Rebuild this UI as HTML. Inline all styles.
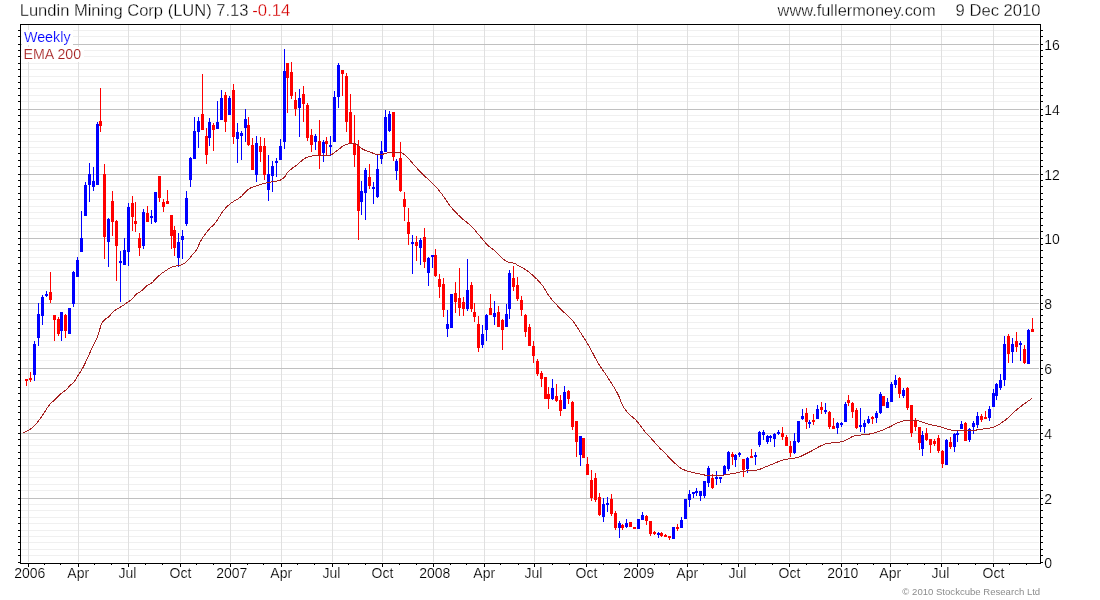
<!DOCTYPE html><html><head><meta charset="utf-8"><title>Lundin Mining Corp (LUN)</title>
<style>html,body{margin:0;padding:0;background:#fff}svg{display:block;will-change:transform}text{font-family:"Liberation Sans",Arial,sans-serif;paint-order:fill stroke;stroke:#fff;stroke-width:.18px}.t{stroke-width:.3px}.c{stroke-width:0}</style></head><body>
<svg width="1100" height="600" viewBox="0 0 1100 600">
<rect x="0" y="0" width="1100" height="600" fill="#fff"/>
<g shape-rendering="crispEdges">
<rect x="21" y="30" width="1018" height="1" fill="#f0f0f0"/>
<rect x="21" y="36" width="1018" height="1" fill="#f0f0f0"/>
<rect x="21" y="50" width="1018" height="1" fill="#f0f0f0"/>
<rect x="21" y="56" width="1018" height="1" fill="#f0f0f0"/>
<rect x="21" y="63" width="1018" height="1" fill="#f0f0f0"/>
<rect x="21" y="69" width="1018" height="1" fill="#f0f0f0"/>
<rect x="21" y="76" width="1018" height="1" fill="#f0f0f0"/>
<rect x="21" y="82" width="1018" height="1" fill="#f0f0f0"/>
<rect x="21" y="88" width="1018" height="1" fill="#f0f0f0"/>
<rect x="21" y="95" width="1018" height="1" fill="#f0f0f0"/>
<rect x="21" y="101" width="1018" height="1" fill="#f0f0f0"/>
<rect x="21" y="115" width="1018" height="1" fill="#f0f0f0"/>
<rect x="21" y="121" width="1018" height="1" fill="#f0f0f0"/>
<rect x="21" y="128" width="1018" height="1" fill="#f0f0f0"/>
<rect x="21" y="134" width="1018" height="1" fill="#f0f0f0"/>
<rect x="21" y="141" width="1018" height="1" fill="#f0f0f0"/>
<rect x="21" y="147" width="1018" height="1" fill="#f0f0f0"/>
<rect x="21" y="153" width="1018" height="1" fill="#f0f0f0"/>
<rect x="21" y="160" width="1018" height="1" fill="#f0f0f0"/>
<rect x="21" y="166" width="1018" height="1" fill="#f0f0f0"/>
<rect x="21" y="180" width="1018" height="1" fill="#f0f0f0"/>
<rect x="21" y="186" width="1018" height="1" fill="#f0f0f0"/>
<rect x="21" y="193" width="1018" height="1" fill="#f0f0f0"/>
<rect x="21" y="199" width="1018" height="1" fill="#f0f0f0"/>
<rect x="21" y="206" width="1018" height="1" fill="#f0f0f0"/>
<rect x="21" y="212" width="1018" height="1" fill="#f0f0f0"/>
<rect x="21" y="218" width="1018" height="1" fill="#f0f0f0"/>
<rect x="21" y="225" width="1018" height="1" fill="#f0f0f0"/>
<rect x="21" y="231" width="1018" height="1" fill="#f0f0f0"/>
<rect x="21" y="244" width="1018" height="1" fill="#f0f0f0"/>
<rect x="21" y="250" width="1018" height="1" fill="#f0f0f0"/>
<rect x="21" y="257" width="1018" height="1" fill="#f0f0f0"/>
<rect x="21" y="263" width="1018" height="1" fill="#f0f0f0"/>
<rect x="21" y="270" width="1018" height="1" fill="#f0f0f0"/>
<rect x="21" y="276" width="1018" height="1" fill="#f0f0f0"/>
<rect x="21" y="282" width="1018" height="1" fill="#f0f0f0"/>
<rect x="21" y="289" width="1018" height="1" fill="#f0f0f0"/>
<rect x="21" y="295" width="1018" height="1" fill="#f0f0f0"/>
<rect x="21" y="309" width="1018" height="1" fill="#f0f0f0"/>
<rect x="21" y="315" width="1018" height="1" fill="#f0f0f0"/>
<rect x="21" y="322" width="1018" height="1" fill="#f0f0f0"/>
<rect x="21" y="328" width="1018" height="1" fill="#f0f0f0"/>
<rect x="21" y="335" width="1018" height="1" fill="#f0f0f0"/>
<rect x="21" y="341" width="1018" height="1" fill="#f0f0f0"/>
<rect x="21" y="347" width="1018" height="1" fill="#f0f0f0"/>
<rect x="21" y="354" width="1018" height="1" fill="#f0f0f0"/>
<rect x="21" y="360" width="1018" height="1" fill="#f0f0f0"/>
<rect x="21" y="374" width="1018" height="1" fill="#f0f0f0"/>
<rect x="21" y="380" width="1018" height="1" fill="#f0f0f0"/>
<rect x="21" y="387" width="1018" height="1" fill="#f0f0f0"/>
<rect x="21" y="393" width="1018" height="1" fill="#f0f0f0"/>
<rect x="21" y="400" width="1018" height="1" fill="#f0f0f0"/>
<rect x="21" y="406" width="1018" height="1" fill="#f0f0f0"/>
<rect x="21" y="412" width="1018" height="1" fill="#f0f0f0"/>
<rect x="21" y="419" width="1018" height="1" fill="#f0f0f0"/>
<rect x="21" y="425" width="1018" height="1" fill="#f0f0f0"/>
<rect x="21" y="439" width="1018" height="1" fill="#f0f0f0"/>
<rect x="21" y="445" width="1018" height="1" fill="#f0f0f0"/>
<rect x="21" y="452" width="1018" height="1" fill="#f0f0f0"/>
<rect x="21" y="458" width="1018" height="1" fill="#f0f0f0"/>
<rect x="21" y="465" width="1018" height="1" fill="#f0f0f0"/>
<rect x="21" y="471" width="1018" height="1" fill="#f0f0f0"/>
<rect x="21" y="477" width="1018" height="1" fill="#f0f0f0"/>
<rect x="21" y="484" width="1018" height="1" fill="#f0f0f0"/>
<rect x="21" y="490" width="1018" height="1" fill="#f0f0f0"/>
<rect x="21" y="504" width="1018" height="1" fill="#f0f0f0"/>
<rect x="21" y="510" width="1018" height="1" fill="#f0f0f0"/>
<rect x="21" y="517" width="1018" height="1" fill="#f0f0f0"/>
<rect x="21" y="523" width="1018" height="1" fill="#f0f0f0"/>
<rect x="21" y="530" width="1018" height="1" fill="#f0f0f0"/>
<rect x="21" y="536" width="1018" height="1" fill="#f0f0f0"/>
<rect x="21" y="542" width="1018" height="1" fill="#f0f0f0"/>
<rect x="21" y="549" width="1018" height="1" fill="#f0f0f0"/>
<rect x="21" y="555" width="1018" height="1" fill="#f0f0f0"/>
<rect x="28" y="25" width="1" height="537" fill="#e0e0e0"/>
<rect x="78" y="25" width="1" height="537" fill="#e0e0e0"/>
<rect x="128" y="25" width="1" height="537" fill="#e0e0e0"/>
<rect x="180" y="25" width="1" height="537" fill="#e0e0e0"/>
<rect x="230" y="25" width="1" height="537" fill="#e0e0e0"/>
<rect x="281" y="25" width="1" height="537" fill="#e0e0e0"/>
<rect x="332" y="25" width="1" height="537" fill="#e0e0e0"/>
<rect x="382" y="25" width="1" height="537" fill="#e0e0e0"/>
<rect x="433" y="25" width="1" height="537" fill="#e0e0e0"/>
<rect x="484" y="25" width="1" height="537" fill="#e0e0e0"/>
<rect x="534" y="25" width="1" height="537" fill="#e0e0e0"/>
<rect x="586" y="25" width="1" height="537" fill="#e0e0e0"/>
<rect x="637" y="25" width="1" height="537" fill="#e0e0e0"/>
<rect x="687" y="25" width="1" height="537" fill="#e0e0e0"/>
<rect x="738" y="25" width="1" height="537" fill="#e0e0e0"/>
<rect x="789" y="25" width="1" height="537" fill="#e0e0e0"/>
<rect x="841" y="25" width="1" height="537" fill="#e0e0e0"/>
<rect x="890" y="25" width="1" height="537" fill="#e0e0e0"/>
<rect x="941" y="25" width="1" height="537" fill="#e0e0e0"/>
<rect x="993" y="25" width="1" height="537" fill="#e0e0e0"/>
<rect x="21" y="44" width="1018" height="1" fill="#c0c0c0"/>
<rect x="21" y="109" width="1018" height="1" fill="#c0c0c0"/>
<rect x="21" y="174" width="1018" height="1" fill="#c0c0c0"/>
<rect x="21" y="238" width="1018" height="1" fill="#c0c0c0"/>
<rect x="21" y="303" width="1018" height="1" fill="#c0c0c0"/>
<rect x="21" y="368" width="1018" height="1" fill="#c0c0c0"/>
<rect x="21" y="433" width="1018" height="1" fill="#c0c0c0"/>
<rect x="21" y="498" width="1018" height="1" fill="#c0c0c0"/>
<rect x="22" y="30" width="51" height="15" fill="#fff"/>
<rect x="22" y="47" width="62" height="15" fill="#fff"/>
<rect x="18" y="30" width="2" height="1" fill="#000"/>
<rect x="1041" y="30" width="2" height="1" fill="#000"/>
<rect x="18" y="36" width="2" height="1" fill="#000"/>
<rect x="1041" y="36" width="2" height="1" fill="#000"/>
<rect x="18" y="50" width="2" height="1" fill="#000"/>
<rect x="1041" y="50" width="2" height="1" fill="#000"/>
<rect x="18" y="56" width="2" height="1" fill="#000"/>
<rect x="1041" y="56" width="2" height="1" fill="#000"/>
<rect x="18" y="63" width="2" height="1" fill="#000"/>
<rect x="1041" y="63" width="2" height="1" fill="#000"/>
<rect x="18" y="69" width="2" height="1" fill="#000"/>
<rect x="1041" y="69" width="2" height="1" fill="#000"/>
<rect x="18" y="76" width="2" height="1" fill="#000"/>
<rect x="1041" y="76" width="2" height="1" fill="#000"/>
<rect x="18" y="82" width="2" height="1" fill="#000"/>
<rect x="1041" y="82" width="2" height="1" fill="#000"/>
<rect x="18" y="88" width="2" height="1" fill="#000"/>
<rect x="1041" y="88" width="2" height="1" fill="#000"/>
<rect x="18" y="95" width="2" height="1" fill="#000"/>
<rect x="1041" y="95" width="2" height="1" fill="#000"/>
<rect x="18" y="101" width="2" height="1" fill="#000"/>
<rect x="1041" y="101" width="2" height="1" fill="#000"/>
<rect x="18" y="115" width="2" height="1" fill="#000"/>
<rect x="1041" y="115" width="2" height="1" fill="#000"/>
<rect x="18" y="121" width="2" height="1" fill="#000"/>
<rect x="1041" y="121" width="2" height="1" fill="#000"/>
<rect x="18" y="128" width="2" height="1" fill="#000"/>
<rect x="1041" y="128" width="2" height="1" fill="#000"/>
<rect x="18" y="134" width="2" height="1" fill="#000"/>
<rect x="1041" y="134" width="2" height="1" fill="#000"/>
<rect x="18" y="141" width="2" height="1" fill="#000"/>
<rect x="1041" y="141" width="2" height="1" fill="#000"/>
<rect x="18" y="147" width="2" height="1" fill="#000"/>
<rect x="1041" y="147" width="2" height="1" fill="#000"/>
<rect x="18" y="153" width="2" height="1" fill="#000"/>
<rect x="1041" y="153" width="2" height="1" fill="#000"/>
<rect x="18" y="160" width="2" height="1" fill="#000"/>
<rect x="1041" y="160" width="2" height="1" fill="#000"/>
<rect x="18" y="166" width="2" height="1" fill="#000"/>
<rect x="1041" y="166" width="2" height="1" fill="#000"/>
<rect x="18" y="180" width="2" height="1" fill="#000"/>
<rect x="1041" y="180" width="2" height="1" fill="#000"/>
<rect x="18" y="186" width="2" height="1" fill="#000"/>
<rect x="1041" y="186" width="2" height="1" fill="#000"/>
<rect x="18" y="193" width="2" height="1" fill="#000"/>
<rect x="1041" y="193" width="2" height="1" fill="#000"/>
<rect x="18" y="199" width="2" height="1" fill="#000"/>
<rect x="1041" y="199" width="2" height="1" fill="#000"/>
<rect x="18" y="206" width="2" height="1" fill="#000"/>
<rect x="1041" y="206" width="2" height="1" fill="#000"/>
<rect x="18" y="212" width="2" height="1" fill="#000"/>
<rect x="1041" y="212" width="2" height="1" fill="#000"/>
<rect x="18" y="218" width="2" height="1" fill="#000"/>
<rect x="1041" y="218" width="2" height="1" fill="#000"/>
<rect x="18" y="225" width="2" height="1" fill="#000"/>
<rect x="1041" y="225" width="2" height="1" fill="#000"/>
<rect x="18" y="231" width="2" height="1" fill="#000"/>
<rect x="1041" y="231" width="2" height="1" fill="#000"/>
<rect x="18" y="244" width="2" height="1" fill="#000"/>
<rect x="1041" y="244" width="2" height="1" fill="#000"/>
<rect x="18" y="250" width="2" height="1" fill="#000"/>
<rect x="1041" y="250" width="2" height="1" fill="#000"/>
<rect x="18" y="257" width="2" height="1" fill="#000"/>
<rect x="1041" y="257" width="2" height="1" fill="#000"/>
<rect x="18" y="263" width="2" height="1" fill="#000"/>
<rect x="1041" y="263" width="2" height="1" fill="#000"/>
<rect x="18" y="270" width="2" height="1" fill="#000"/>
<rect x="1041" y="270" width="2" height="1" fill="#000"/>
<rect x="18" y="276" width="2" height="1" fill="#000"/>
<rect x="1041" y="276" width="2" height="1" fill="#000"/>
<rect x="18" y="282" width="2" height="1" fill="#000"/>
<rect x="1041" y="282" width="2" height="1" fill="#000"/>
<rect x="18" y="289" width="2" height="1" fill="#000"/>
<rect x="1041" y="289" width="2" height="1" fill="#000"/>
<rect x="18" y="295" width="2" height="1" fill="#000"/>
<rect x="1041" y="295" width="2" height="1" fill="#000"/>
<rect x="18" y="309" width="2" height="1" fill="#000"/>
<rect x="1041" y="309" width="2" height="1" fill="#000"/>
<rect x="18" y="315" width="2" height="1" fill="#000"/>
<rect x="1041" y="315" width="2" height="1" fill="#000"/>
<rect x="18" y="322" width="2" height="1" fill="#000"/>
<rect x="1041" y="322" width="2" height="1" fill="#000"/>
<rect x="18" y="328" width="2" height="1" fill="#000"/>
<rect x="1041" y="328" width="2" height="1" fill="#000"/>
<rect x="18" y="335" width="2" height="1" fill="#000"/>
<rect x="1041" y="335" width="2" height="1" fill="#000"/>
<rect x="18" y="341" width="2" height="1" fill="#000"/>
<rect x="1041" y="341" width="2" height="1" fill="#000"/>
<rect x="18" y="347" width="2" height="1" fill="#000"/>
<rect x="1041" y="347" width="2" height="1" fill="#000"/>
<rect x="18" y="354" width="2" height="1" fill="#000"/>
<rect x="1041" y="354" width="2" height="1" fill="#000"/>
<rect x="18" y="360" width="2" height="1" fill="#000"/>
<rect x="1041" y="360" width="2" height="1" fill="#000"/>
<rect x="18" y="374" width="2" height="1" fill="#000"/>
<rect x="1041" y="374" width="2" height="1" fill="#000"/>
<rect x="18" y="380" width="2" height="1" fill="#000"/>
<rect x="1041" y="380" width="2" height="1" fill="#000"/>
<rect x="18" y="387" width="2" height="1" fill="#000"/>
<rect x="1041" y="387" width="2" height="1" fill="#000"/>
<rect x="18" y="393" width="2" height="1" fill="#000"/>
<rect x="1041" y="393" width="2" height="1" fill="#000"/>
<rect x="18" y="400" width="2" height="1" fill="#000"/>
<rect x="1041" y="400" width="2" height="1" fill="#000"/>
<rect x="18" y="406" width="2" height="1" fill="#000"/>
<rect x="1041" y="406" width="2" height="1" fill="#000"/>
<rect x="18" y="412" width="2" height="1" fill="#000"/>
<rect x="1041" y="412" width="2" height="1" fill="#000"/>
<rect x="18" y="419" width="2" height="1" fill="#000"/>
<rect x="1041" y="419" width="2" height="1" fill="#000"/>
<rect x="18" y="425" width="2" height="1" fill="#000"/>
<rect x="1041" y="425" width="2" height="1" fill="#000"/>
<rect x="18" y="439" width="2" height="1" fill="#000"/>
<rect x="1041" y="439" width="2" height="1" fill="#000"/>
<rect x="18" y="445" width="2" height="1" fill="#000"/>
<rect x="1041" y="445" width="2" height="1" fill="#000"/>
<rect x="18" y="452" width="2" height="1" fill="#000"/>
<rect x="1041" y="452" width="2" height="1" fill="#000"/>
<rect x="18" y="458" width="2" height="1" fill="#000"/>
<rect x="1041" y="458" width="2" height="1" fill="#000"/>
<rect x="18" y="465" width="2" height="1" fill="#000"/>
<rect x="1041" y="465" width="2" height="1" fill="#000"/>
<rect x="18" y="471" width="2" height="1" fill="#000"/>
<rect x="1041" y="471" width="2" height="1" fill="#000"/>
<rect x="18" y="477" width="2" height="1" fill="#000"/>
<rect x="1041" y="477" width="2" height="1" fill="#000"/>
<rect x="18" y="484" width="2" height="1" fill="#000"/>
<rect x="1041" y="484" width="2" height="1" fill="#000"/>
<rect x="18" y="490" width="2" height="1" fill="#000"/>
<rect x="1041" y="490" width="2" height="1" fill="#000"/>
<rect x="18" y="504" width="2" height="1" fill="#000"/>
<rect x="1041" y="504" width="2" height="1" fill="#000"/>
<rect x="18" y="510" width="2" height="1" fill="#000"/>
<rect x="1041" y="510" width="2" height="1" fill="#000"/>
<rect x="18" y="517" width="2" height="1" fill="#000"/>
<rect x="1041" y="517" width="2" height="1" fill="#000"/>
<rect x="18" y="523" width="2" height="1" fill="#000"/>
<rect x="1041" y="523" width="2" height="1" fill="#000"/>
<rect x="18" y="530" width="2" height="1" fill="#000"/>
<rect x="1041" y="530" width="2" height="1" fill="#000"/>
<rect x="18" y="536" width="2" height="1" fill="#000"/>
<rect x="1041" y="536" width="2" height="1" fill="#000"/>
<rect x="18" y="542" width="2" height="1" fill="#000"/>
<rect x="1041" y="542" width="2" height="1" fill="#000"/>
<rect x="18" y="549" width="2" height="1" fill="#000"/>
<rect x="1041" y="549" width="2" height="1" fill="#000"/>
<rect x="18" y="555" width="2" height="1" fill="#000"/>
<rect x="1041" y="555" width="2" height="1" fill="#000"/>
<rect x="18" y="44" width="2" height="1" fill="#000"/>
<rect x="1041" y="44" width="2" height="1" fill="#000"/>
<rect x="18" y="109" width="2" height="1" fill="#000"/>
<rect x="1041" y="109" width="2" height="1" fill="#000"/>
<rect x="18" y="174" width="2" height="1" fill="#000"/>
<rect x="1041" y="174" width="2" height="1" fill="#000"/>
<rect x="18" y="238" width="2" height="1" fill="#000"/>
<rect x="1041" y="238" width="2" height="1" fill="#000"/>
<rect x="18" y="303" width="2" height="1" fill="#000"/>
<rect x="1041" y="303" width="2" height="1" fill="#000"/>
<rect x="18" y="368" width="2" height="1" fill="#000"/>
<rect x="1041" y="368" width="2" height="1" fill="#000"/>
<rect x="18" y="433" width="2" height="1" fill="#000"/>
<rect x="1041" y="433" width="2" height="1" fill="#000"/>
<rect x="18" y="498" width="2" height="1" fill="#000"/>
<rect x="1041" y="498" width="2" height="1" fill="#000"/>
<rect x="18" y="562" width="2" height="1" fill="#000"/>
<rect x="1041" y="562" width="2" height="1" fill="#000"/>
<rect x="20" y="24" width="1021" height="1" fill="#000"/>
<rect x="20" y="563" width="1021" height="1" fill="#000"/>
<rect x="20" y="24" width="1" height="540" fill="#000"/>
<rect x="1040" y="24" width="1" height="540" fill="#000"/>
<rect x="28" y="564" width="1" height="3" fill="#000"/>
<rect x="78" y="564" width="1" height="3" fill="#000"/>
<rect x="128" y="564" width="1" height="3" fill="#000"/>
<rect x="180" y="564" width="1" height="3" fill="#000"/>
<rect x="230" y="564" width="1" height="3" fill="#000"/>
<rect x="281" y="564" width="1" height="3" fill="#000"/>
<rect x="332" y="564" width="1" height="3" fill="#000"/>
<rect x="382" y="564" width="1" height="3" fill="#000"/>
<rect x="433" y="564" width="1" height="3" fill="#000"/>
<rect x="484" y="564" width="1" height="3" fill="#000"/>
<rect x="534" y="564" width="1" height="3" fill="#000"/>
<rect x="586" y="564" width="1" height="3" fill="#000"/>
<rect x="637" y="564" width="1" height="3" fill="#000"/>
<rect x="687" y="564" width="1" height="3" fill="#000"/>
<rect x="738" y="564" width="1" height="3" fill="#000"/>
<rect x="789" y="564" width="1" height="3" fill="#000"/>
<rect x="841" y="564" width="1" height="3" fill="#000"/>
<rect x="890" y="564" width="1" height="3" fill="#000"/>
<rect x="941" y="564" width="1" height="3" fill="#000"/>
<rect x="993" y="564" width="1" height="3" fill="#000"/>
<rect x="44" y="564" width="1" height="1" fill="#000"/>
<rect x="60" y="564" width="1" height="1" fill="#000"/>
<rect x="94" y="564" width="1" height="1" fill="#000"/>
<rect x="111" y="564" width="1" height="1" fill="#000"/>
<rect x="145" y="564" width="1" height="1" fill="#000"/>
<rect x="162" y="564" width="1" height="1" fill="#000"/>
<rect x="196" y="564" width="1" height="1" fill="#000"/>
<rect x="213" y="564" width="1" height="1" fill="#000"/>
<rect x="247" y="564" width="1" height="1" fill="#000"/>
<rect x="263" y="564" width="1" height="1" fill="#000"/>
<rect x="297" y="564" width="1" height="1" fill="#000"/>
<rect x="314" y="564" width="1" height="1" fill="#000"/>
<rect x="348" y="564" width="1" height="1" fill="#000"/>
<rect x="365" y="564" width="1" height="1" fill="#000"/>
<rect x="399" y="564" width="1" height="1" fill="#000"/>
<rect x="416" y="564" width="1" height="1" fill="#000"/>
<rect x="450" y="564" width="1" height="1" fill="#000"/>
<rect x="466" y="564" width="1" height="1" fill="#000"/>
<rect x="500" y="564" width="1" height="1" fill="#000"/>
<rect x="518" y="564" width="1" height="1" fill="#000"/>
<rect x="552" y="564" width="1" height="1" fill="#000"/>
<rect x="569" y="564" width="1" height="1" fill="#000"/>
<rect x="603" y="564" width="1" height="1" fill="#000"/>
<rect x="619" y="564" width="1" height="1" fill="#000"/>
<rect x="654" y="564" width="1" height="1" fill="#000"/>
<rect x="669" y="564" width="1" height="1" fill="#000"/>
<rect x="703" y="564" width="1" height="1" fill="#000"/>
<rect x="721" y="564" width="1" height="1" fill="#000"/>
<rect x="755" y="564" width="1" height="1" fill="#000"/>
<rect x="772" y="564" width="1" height="1" fill="#000"/>
<rect x="806" y="564" width="1" height="1" fill="#000"/>
<rect x="822" y="564" width="1" height="1" fill="#000"/>
<rect x="857" y="564" width="1" height="1" fill="#000"/>
<rect x="873" y="564" width="1" height="1" fill="#000"/>
<rect x="907" y="564" width="1" height="1" fill="#000"/>
<rect x="924" y="564" width="1" height="1" fill="#000"/>
<rect x="958" y="564" width="1" height="1" fill="#000"/>
<rect x="975" y="564" width="1" height="1" fill="#000"/>
<rect x="1009" y="564" width="1" height="1" fill="#000"/>
<rect x="1026" y="564" width="1" height="1" fill="#000"/>
<rect x="26" y="379" width="1" height="7" fill="#ff0000"/><rect x="25" y="379" width="3" height="2" fill="#ff0000"/>
<rect x="30" y="372" width="1" height="10" fill="#ff0000"/><rect x="29" y="378" width="3" height="2" fill="#ff0000"/>
<rect x="34" y="341" width="1" height="40" fill="#0000ff"/><rect x="33" y="344" width="3" height="31" fill="#0000ff"/>
<rect x="38" y="303" width="1" height="43" fill="#0000ff"/><rect x="37" y="314" width="3" height="24" fill="#0000ff"/>
<rect x="42" y="295" width="1" height="30" fill="#0000ff"/><rect x="41" y="297" width="3" height="19" fill="#0000ff"/>
<rect x="46" y="291" width="1" height="6" fill="#0000ff"/><rect x="45" y="294" width="3" height="2" fill="#0000ff"/>
<rect x="50" y="272" width="1" height="31" fill="#ff0000"/><rect x="49" y="292" width="3" height="8" fill="#ff0000"/>
<rect x="54" y="315" width="1" height="26" fill="#ff0000"/><rect x="53" y="315" width="3" height="5" fill="#ff0000"/>
<rect x="58" y="317" width="1" height="19" fill="#ff0000"/><rect x="57" y="319" width="3" height="15" fill="#ff0000"/>
<rect x="61" y="312" width="1" height="29" fill="#0000ff"/><rect x="60" y="312" width="3" height="19" fill="#0000ff"/>
<rect x="65" y="314" width="1" height="24" fill="#ff0000"/><rect x="64" y="315" width="3" height="16" fill="#ff0000"/>
<rect x="69" y="308" width="1" height="26" fill="#0000ff"/><rect x="68" y="308" width="3" height="26" fill="#0000ff"/>
<rect x="73" y="271" width="1" height="36" fill="#0000ff"/><rect x="72" y="272" width="3" height="32" fill="#0000ff"/>
<rect x="77" y="257" width="1" height="20" fill="#0000ff"/><rect x="76" y="260" width="3" height="17" fill="#0000ff"/>
<rect x="81" y="211" width="1" height="41" fill="#0000ff"/><rect x="80" y="238" width="3" height="14" fill="#0000ff"/>
<rect x="85" y="182" width="1" height="34" fill="#0000ff"/><rect x="84" y="185" width="3" height="31" fill="#0000ff"/>
<rect x="89" y="163" width="1" height="39" fill="#0000ff"/><rect x="88" y="174" width="3" height="11" fill="#0000ff"/>
<rect x="93" y="167" width="1" height="24" fill="#0000ff"/><rect x="92" y="181" width="3" height="6" fill="#0000ff"/>
<rect x="97" y="122" width="1" height="63" fill="#0000ff"/><rect x="96" y="124" width="3" height="61" fill="#0000ff"/>
<rect x="100" y="88" width="1" height="44" fill="#ff0000"/><rect x="99" y="121" width="3" height="5" fill="#ff0000"/>
<rect x="104" y="164" width="1" height="95" fill="#ff0000"/><rect x="103" y="174" width="3" height="63" fill="#ff0000"/>
<rect x="108" y="218" width="1" height="49" fill="#0000ff"/><rect x="107" y="219" width="3" height="23" fill="#0000ff"/>
<rect x="112" y="191" width="1" height="45" fill="#ff0000"/><rect x="111" y="201" width="3" height="21" fill="#ff0000"/>
<rect x="116" y="220" width="1" height="61" fill="#ff0000"/><rect x="115" y="221" width="3" height="25" fill="#ff0000"/>
<rect x="120" y="251" width="1" height="51" fill="#0000ff"/><rect x="119" y="261" width="3" height="2" fill="#0000ff"/>
<rect x="124" y="238" width="1" height="27" fill="#0000ff"/><rect x="123" y="250" width="3" height="15" fill="#0000ff"/>
<rect x="128" y="203" width="1" height="63" fill="#0000ff"/><rect x="127" y="207" width="3" height="45" fill="#0000ff"/>
<rect x="132" y="196" width="1" height="35" fill="#ff0000"/><rect x="131" y="203" width="3" height="14" fill="#ff0000"/>
<rect x="135" y="202" width="1" height="30" fill="#ff0000"/><rect x="134" y="221" width="3" height="3" fill="#ff0000"/>
<rect x="139" y="233" width="1" height="23" fill="#ff0000"/><rect x="138" y="238" width="3" height="10" fill="#ff0000"/>
<rect x="143" y="209" width="1" height="40" fill="#0000ff"/><rect x="142" y="212" width="3" height="34" fill="#0000ff"/>
<rect x="147" y="206" width="1" height="16" fill="#ff0000"/><rect x="146" y="213" width="3" height="9" fill="#ff0000"/>
<rect x="151" y="210" width="1" height="14" fill="#0000ff"/><rect x="150" y="216" width="3" height="2" fill="#0000ff"/>
<rect x="155" y="192" width="1" height="31" fill="#0000ff"/><rect x="154" y="192" width="3" height="30" fill="#0000ff"/>
<rect x="159" y="176" width="1" height="26" fill="#ff0000"/><rect x="158" y="176" width="3" height="22" fill="#ff0000"/>
<rect x="163" y="199" width="1" height="13" fill="#ff0000"/><rect x="162" y="202" width="3" height="5" fill="#ff0000"/>
<rect x="167" y="190" width="1" height="14" fill="#ff0000"/><rect x="166" y="201" width="3" height="3" fill="#ff0000"/>
<rect x="171" y="215" width="1" height="34" fill="#ff0000"/><rect x="170" y="215" width="3" height="21" fill="#ff0000"/>
<rect x="174" y="226" width="1" height="30" fill="#ff0000"/><rect x="173" y="230" width="3" height="18" fill="#ff0000"/>
<rect x="178" y="233" width="1" height="34" fill="#0000ff"/><rect x="177" y="242" width="3" height="16" fill="#0000ff"/>
<rect x="182" y="230" width="1" height="29" fill="#0000ff"/><rect x="181" y="236" width="3" height="4" fill="#0000ff"/>
<rect x="186" y="191" width="1" height="35" fill="#0000ff"/><rect x="185" y="198" width="3" height="26" fill="#0000ff"/>
<rect x="190" y="157" width="1" height="30" fill="#0000ff"/><rect x="189" y="158" width="3" height="22" fill="#0000ff"/>
<rect x="194" y="117" width="1" height="42" fill="#0000ff"/><rect x="193" y="131" width="3" height="28" fill="#0000ff"/>
<rect x="198" y="117" width="1" height="31" fill="#0000ff"/><rect x="197" y="121" width="3" height="11" fill="#0000ff"/>
<rect x="202" y="74" width="1" height="56" fill="#ff0000"/><rect x="201" y="114" width="3" height="16" fill="#ff0000"/>
<rect x="206" y="128" width="1" height="36" fill="#ff0000"/><rect x="205" y="136" width="3" height="19" fill="#ff0000"/>
<rect x="209" y="118" width="1" height="28" fill="#0000ff"/><rect x="208" y="122" width="3" height="16" fill="#0000ff"/>
<rect x="213" y="123" width="1" height="28" fill="#ff0000"/><rect x="212" y="125" width="3" height="5" fill="#ff0000"/>
<rect x="217" y="101" width="1" height="28" fill="#0000ff"/><rect x="216" y="122" width="3" height="7" fill="#0000ff"/>
<rect x="221" y="90" width="1" height="30" fill="#0000ff"/><rect x="220" y="98" width="3" height="22" fill="#0000ff"/>
<rect x="225" y="92" width="1" height="40" fill="#ff0000"/><rect x="224" y="95" width="3" height="27" fill="#ff0000"/>
<rect x="229" y="96" width="1" height="19" fill="#0000ff"/><rect x="228" y="98" width="3" height="17" fill="#0000ff"/>
<rect x="233" y="84" width="1" height="60" fill="#ff0000"/><rect x="232" y="90" width="3" height="47" fill="#ff0000"/>
<rect x="237" y="123" width="1" height="40" fill="#0000ff"/><rect x="236" y="132" width="3" height="7" fill="#0000ff"/>
<rect x="241" y="131" width="1" height="29" fill="#0000ff"/><rect x="240" y="133" width="3" height="3" fill="#0000ff"/>
<rect x="245" y="109" width="1" height="33" fill="#0000ff"/><rect x="244" y="119" width="3" height="9" fill="#0000ff"/>
<rect x="248" y="117" width="1" height="29" fill="#ff0000"/><rect x="247" y="125" width="3" height="20" fill="#ff0000"/>
<rect x="252" y="138" width="1" height="32" fill="#ff0000"/><rect x="251" y="145" width="3" height="25" fill="#ff0000"/>
<rect x="256" y="136" width="1" height="46" fill="#0000ff"/><rect x="255" y="143" width="3" height="32" fill="#0000ff"/>
<rect x="260" y="137" width="1" height="25" fill="#ff0000"/><rect x="259" y="146" width="3" height="6" fill="#ff0000"/>
<rect x="264" y="138" width="1" height="42" fill="#ff0000"/><rect x="263" y="146" width="3" height="29" fill="#ff0000"/>
<rect x="268" y="155" width="1" height="46" fill="#0000ff"/><rect x="267" y="174" width="3" height="16" fill="#0000ff"/>
<rect x="272" y="161" width="1" height="31" fill="#0000ff"/><rect x="271" y="166" width="3" height="10" fill="#0000ff"/>
<rect x="276" y="158" width="1" height="19" fill="#0000ff"/><rect x="275" y="161" width="3" height="2" fill="#0000ff"/>
<rect x="280" y="139" width="1" height="21" fill="#0000ff"/><rect x="279" y="146" width="3" height="14" fill="#0000ff"/>
<rect x="284" y="49" width="1" height="100" fill="#0000ff"/><rect x="283" y="71" width="3" height="71" fill="#0000ff"/>
<rect x="287" y="63" width="1" height="50" fill="#ff0000"/><rect x="286" y="63" width="3" height="15" fill="#ff0000"/>
<rect x="291" y="62" width="1" height="37" fill="#ff0000"/><rect x="290" y="72" width="3" height="24" fill="#ff0000"/>
<rect x="295" y="92" width="1" height="24" fill="#ff0000"/><rect x="294" y="100" width="3" height="9" fill="#ff0000"/>
<rect x="299" y="89" width="1" height="48" fill="#0000ff"/><rect x="298" y="98" width="3" height="10" fill="#0000ff"/>
<rect x="303" y="86" width="1" height="36" fill="#ff0000"/><rect x="302" y="94" width="3" height="10" fill="#ff0000"/>
<rect x="307" y="103" width="1" height="38" fill="#ff0000"/><rect x="306" y="105" width="3" height="33" fill="#ff0000"/>
<rect x="311" y="129" width="1" height="23" fill="#ff0000"/><rect x="310" y="135" width="3" height="10" fill="#ff0000"/>
<rect x="315" y="134" width="1" height="16" fill="#0000ff"/><rect x="314" y="136" width="3" height="6" fill="#0000ff"/>
<rect x="319" y="120" width="1" height="49" fill="#ff0000"/><rect x="318" y="141" width="3" height="14" fill="#ff0000"/>
<rect x="323" y="140" width="1" height="22" fill="#0000ff"/><rect x="322" y="142" width="3" height="11" fill="#0000ff"/>
<rect x="326" y="137" width="1" height="18" fill="#ff0000"/><rect x="325" y="141" width="3" height="3" fill="#ff0000"/>
<rect x="330" y="136" width="1" height="20" fill="#0000ff"/><rect x="329" y="145" width="3" height="2" fill="#0000ff"/>
<rect x="334" y="91" width="1" height="51" fill="#0000ff"/><rect x="333" y="97" width="3" height="45" fill="#0000ff"/>
<rect x="338" y="63" width="1" height="45" fill="#0000ff"/><rect x="337" y="65" width="3" height="32" fill="#0000ff"/>
<rect x="342" y="70" width="1" height="26" fill="#ff0000"/><rect x="341" y="70" width="3" height="4" fill="#ff0000"/>
<rect x="346" y="73" width="1" height="59" fill="#ff0000"/><rect x="345" y="76" width="3" height="46" fill="#ff0000"/>
<rect x="350" y="94" width="1" height="50" fill="#ff0000"/><rect x="349" y="112" width="3" height="32" fill="#ff0000"/>
<rect x="354" y="115" width="1" height="52" fill="#ff0000"/><rect x="353" y="144" width="3" height="11" fill="#ff0000"/>
<rect x="358" y="140" width="1" height="100" fill="#ff0000"/><rect x="357" y="146" width="3" height="65" fill="#ff0000"/>
<rect x="361" y="181" width="1" height="34" fill="#0000ff"/><rect x="360" y="191" width="3" height="11" fill="#0000ff"/>
<rect x="365" y="168" width="1" height="52" fill="#0000ff"/><rect x="364" y="170" width="3" height="23" fill="#0000ff"/>
<rect x="369" y="164" width="1" height="25" fill="#ff0000"/><rect x="368" y="177" width="3" height="9" fill="#ff0000"/>
<rect x="373" y="182" width="1" height="22" fill="#0000ff"/><rect x="372" y="187" width="3" height="2" fill="#0000ff"/>
<rect x="377" y="155" width="1" height="43" fill="#0000ff"/><rect x="376" y="169" width="3" height="28" fill="#0000ff"/>
<rect x="381" y="141" width="1" height="23" fill="#0000ff"/><rect x="380" y="151" width="3" height="8" fill="#0000ff"/>
<rect x="385" y="110" width="1" height="42" fill="#0000ff"/><rect x="384" y="117" width="3" height="35" fill="#0000ff"/>
<rect x="389" y="111" width="1" height="21" fill="#0000ff"/><rect x="388" y="114" width="3" height="17" fill="#0000ff"/>
<rect x="393" y="112" width="1" height="49" fill="#ff0000"/><rect x="392" y="112" width="3" height="45" fill="#ff0000"/>
<rect x="396" y="159" width="1" height="21" fill="#0000ff"/><rect x="395" y="161" width="3" height="10" fill="#0000ff"/>
<rect x="400" y="142" width="1" height="50" fill="#ff0000"/><rect x="399" y="158" width="3" height="33" fill="#ff0000"/>
<rect x="404" y="192" width="1" height="29" fill="#ff0000"/><rect x="403" y="199" width="3" height="8" fill="#ff0000"/>
<rect x="408" y="208" width="1" height="37" fill="#ff0000"/><rect x="407" y="222" width="3" height="12" fill="#ff0000"/>
<rect x="412" y="235" width="1" height="39" fill="#0000ff"/><rect x="411" y="242" width="3" height="2" fill="#0000ff"/>
<rect x="416" y="236" width="1" height="25" fill="#ff0000"/><rect x="415" y="242" width="3" height="4" fill="#ff0000"/>
<rect x="420" y="238" width="1" height="27" fill="#0000ff"/><rect x="419" y="240" width="3" height="8" fill="#0000ff"/>
<rect x="424" y="228" width="1" height="40" fill="#ff0000"/><rect x="423" y="237" width="3" height="25" fill="#ff0000"/>
<rect x="428" y="257" width="1" height="29" fill="#0000ff"/><rect x="427" y="258" width="3" height="15" fill="#0000ff"/>
<rect x="432" y="255" width="1" height="13" fill="#0000ff"/><rect x="431" y="255" width="3" height="2" fill="#0000ff"/>
<rect x="435" y="249" width="1" height="28" fill="#ff0000"/><rect x="434" y="255" width="3" height="21" fill="#ff0000"/>
<rect x="439" y="274" width="1" height="24" fill="#ff0000"/><rect x="438" y="279" width="3" height="8" fill="#ff0000"/>
<rect x="443" y="278" width="1" height="39" fill="#ff0000"/><rect x="442" y="284" width="3" height="26" fill="#ff0000"/>
<rect x="447" y="310" width="1" height="27" fill="#0000ff"/><rect x="446" y="324" width="3" height="5" fill="#0000ff"/>
<rect x="451" y="294" width="1" height="34" fill="#0000ff"/><rect x="450" y="294" width="3" height="34" fill="#0000ff"/>
<rect x="455" y="282" width="1" height="31" fill="#ff0000"/><rect x="454" y="293" width="3" height="9" fill="#ff0000"/>
<rect x="459" y="268" width="1" height="48" fill="#ff0000"/><rect x="458" y="298" width="3" height="10" fill="#ff0000"/>
<rect x="463" y="297" width="1" height="19" fill="#ff0000"/><rect x="462" y="302" width="3" height="7" fill="#ff0000"/>
<rect x="467" y="259" width="1" height="52" fill="#0000ff"/><rect x="466" y="290" width="3" height="19" fill="#0000ff"/>
<rect x="471" y="282" width="1" height="30" fill="#ff0000"/><rect x="470" y="285" width="3" height="24" fill="#ff0000"/>
<rect x="474" y="303" width="1" height="19" fill="#ff0000"/><rect x="473" y="312" width="3" height="5" fill="#ff0000"/>
<rect x="478" y="316" width="1" height="36" fill="#ff0000"/><rect x="477" y="324" width="3" height="24" fill="#ff0000"/>
<rect x="482" y="325" width="1" height="23" fill="#0000ff"/><rect x="481" y="334" width="3" height="11" fill="#0000ff"/>
<rect x="486" y="314" width="1" height="27" fill="#0000ff"/><rect x="485" y="315" width="3" height="15" fill="#0000ff"/>
<rect x="490" y="294" width="1" height="21" fill="#ff0000"/><rect x="489" y="308" width="3" height="7" fill="#ff0000"/>
<rect x="494" y="301" width="1" height="24" fill="#0000ff"/><rect x="493" y="313" width="3" height="4" fill="#0000ff"/>
<rect x="498" y="306" width="1" height="21" fill="#ff0000"/><rect x="497" y="312" width="3" height="15" fill="#ff0000"/>
<rect x="502" y="319" width="1" height="31" fill="#ff0000"/><rect x="501" y="320" width="3" height="10" fill="#ff0000"/>
<rect x="506" y="304" width="1" height="23" fill="#0000ff"/><rect x="505" y="314" width="3" height="13" fill="#0000ff"/>
<rect x="509" y="270" width="1" height="49" fill="#0000ff"/><rect x="508" y="273" width="3" height="36" fill="#0000ff"/>
<rect x="513" y="266" width="1" height="25" fill="#ff0000"/><rect x="512" y="278" width="3" height="9" fill="#ff0000"/>
<rect x="517" y="277" width="1" height="24" fill="#ff0000"/><rect x="516" y="285" width="3" height="14" fill="#ff0000"/>
<rect x="521" y="296" width="1" height="20" fill="#ff0000"/><rect x="520" y="300" width="3" height="10" fill="#ff0000"/>
<rect x="525" y="314" width="1" height="23" fill="#ff0000"/><rect x="524" y="315" width="3" height="17" fill="#ff0000"/>
<rect x="529" y="324" width="1" height="22" fill="#ff0000"/><rect x="528" y="327" width="3" height="19" fill="#ff0000"/>
<rect x="533" y="341" width="1" height="22" fill="#ff0000"/><rect x="532" y="346" width="3" height="10" fill="#ff0000"/>
<rect x="537" y="359" width="1" height="17" fill="#ff0000"/><rect x="536" y="361" width="3" height="13" fill="#ff0000"/>
<rect x="541" y="371" width="1" height="16" fill="#ff0000"/><rect x="540" y="373" width="3" height="6" fill="#ff0000"/>
<rect x="545" y="377" width="1" height="22" fill="#ff0000"/><rect x="544" y="377" width="3" height="22" fill="#ff0000"/>
<rect x="548" y="387" width="1" height="22" fill="#ff0000"/><rect x="547" y="394" width="3" height="5" fill="#ff0000"/>
<rect x="552" y="379" width="1" height="21" fill="#0000ff"/><rect x="551" y="388" width="3" height="11" fill="#0000ff"/>
<rect x="556" y="384" width="1" height="18" fill="#ff0000"/><rect x="555" y="396" width="3" height="5" fill="#ff0000"/>
<rect x="560" y="395" width="1" height="21" fill="#ff0000"/><rect x="559" y="400" width="3" height="11" fill="#ff0000"/>
<rect x="564" y="386" width="1" height="23" fill="#0000ff"/><rect x="563" y="392" width="3" height="17" fill="#0000ff"/>
<rect x="568" y="390" width="1" height="14" fill="#ff0000"/><rect x="567" y="391" width="3" height="8" fill="#ff0000"/>
<rect x="572" y="401" width="1" height="29" fill="#ff0000"/><rect x="571" y="402" width="3" height="25" fill="#ff0000"/>
<rect x="576" y="421" width="1" height="36" fill="#ff0000"/><rect x="575" y="421" width="3" height="21" fill="#ff0000"/>
<rect x="580" y="436" width="1" height="30" fill="#0000ff"/><rect x="579" y="436" width="3" height="19" fill="#0000ff"/>
<rect x="583" y="438" width="1" height="20" fill="#ff0000"/><rect x="582" y="438" width="3" height="20" fill="#ff0000"/>
<rect x="587" y="457" width="1" height="18" fill="#ff0000"/><rect x="586" y="464" width="3" height="11" fill="#ff0000"/>
<rect x="591" y="470" width="1" height="31" fill="#ff0000"/><rect x="590" y="480" width="3" height="18" fill="#ff0000"/>
<rect x="595" y="473" width="1" height="29" fill="#ff0000"/><rect x="594" y="478" width="3" height="22" fill="#ff0000"/>
<rect x="599" y="493" width="1" height="23" fill="#ff0000"/><rect x="598" y="497" width="3" height="18" fill="#ff0000"/>
<rect x="603" y="498" width="1" height="24" fill="#0000ff"/><rect x="602" y="504" width="3" height="13" fill="#0000ff"/>
<rect x="607" y="497" width="1" height="15" fill="#0000ff"/><rect x="606" y="503" width="3" height="2" fill="#0000ff"/>
<rect x="611" y="494" width="1" height="22" fill="#ff0000"/><rect x="610" y="499" width="3" height="15" fill="#ff0000"/>
<rect x="615" y="511" width="1" height="19" fill="#ff0000"/><rect x="614" y="513" width="3" height="15" fill="#ff0000"/>
<rect x="619" y="521" width="1" height="17" fill="#0000ff"/><rect x="618" y="523" width="3" height="5" fill="#0000ff"/>
<rect x="622" y="524" width="1" height="6" fill="#ff0000"/><rect x="621" y="525" width="3" height="3" fill="#ff0000"/>
<rect x="626" y="519" width="1" height="9" fill="#0000ff"/><rect x="625" y="523" width="3" height="4" fill="#0000ff"/>
<rect x="630" y="522" width="1" height="5" fill="#ff0000"/><rect x="629" y="522" width="3" height="5" fill="#ff0000"/>
<rect x="634" y="527" width="1" height="2" fill="#ff0000"/><rect x="633" y="527" width="3" height="2" fill="#ff0000"/>
<rect x="638" y="519" width="1" height="10" fill="#0000ff"/><rect x="637" y="519" width="3" height="10" fill="#0000ff"/>
<rect x="642" y="512" width="1" height="8" fill="#0000ff"/><rect x="641" y="515" width="3" height="5" fill="#0000ff"/>
<rect x="646" y="515" width="1" height="10" fill="#ff0000"/><rect x="645" y="516" width="3" height="5" fill="#ff0000"/>
<rect x="650" y="521" width="1" height="15" fill="#ff0000"/><rect x="649" y="521" width="3" height="13" fill="#ff0000"/>
<rect x="654" y="531" width="1" height="4" fill="#ff0000"/><rect x="653" y="532" width="3" height="2" fill="#ff0000"/>
<rect x="658" y="532" width="1" height="6" fill="#0000ff"/><rect x="657" y="533" width="3" height="2" fill="#0000ff"/>
<rect x="661" y="532" width="1" height="5" fill="#ff0000"/><rect x="660" y="533" width="3" height="3" fill="#ff0000"/>
<rect x="665" y="534" width="1" height="3" fill="#ff0000"/><rect x="664" y="535" width="3" height="2" fill="#ff0000"/>
<rect x="669" y="536" width="1" height="4" fill="#ff0000"/><rect x="668" y="536" width="3" height="2" fill="#ff0000"/>
<rect x="673" y="527" width="1" height="12" fill="#0000ff"/><rect x="672" y="527" width="3" height="12" fill="#0000ff"/>
<rect x="677" y="524" width="1" height="7" fill="#ff0000"/><rect x="676" y="527" width="3" height="2" fill="#ff0000"/>
<rect x="681" y="517" width="1" height="11" fill="#0000ff"/><rect x="680" y="520" width="3" height="8" fill="#0000ff"/>
<rect x="685" y="499" width="1" height="20" fill="#0000ff"/><rect x="684" y="499" width="3" height="20" fill="#0000ff"/>
<rect x="689" y="490" width="1" height="17" fill="#0000ff"/><rect x="688" y="494" width="3" height="6" fill="#0000ff"/>
<rect x="693" y="492" width="1" height="6" fill="#0000ff"/><rect x="692" y="492" width="3" height="2" fill="#0000ff"/>
<rect x="696" y="488" width="1" height="8" fill="#0000ff"/><rect x="695" y="491" width="3" height="2" fill="#0000ff"/>
<rect x="700" y="491" width="1" height="10" fill="#0000ff"/><rect x="699" y="491" width="3" height="5" fill="#0000ff"/>
<rect x="704" y="481" width="1" height="17" fill="#0000ff"/><rect x="703" y="481" width="3" height="15" fill="#0000ff"/>
<rect x="708" y="466" width="1" height="21" fill="#0000ff"/><rect x="707" y="468" width="3" height="15" fill="#0000ff"/>
<rect x="712" y="474" width="1" height="15" fill="#ff0000"/><rect x="711" y="478" width="3" height="10" fill="#ff0000"/>
<rect x="716" y="471" width="1" height="14" fill="#0000ff"/><rect x="715" y="477" width="3" height="2" fill="#0000ff"/>
<rect x="720" y="477" width="1" height="6" fill="#0000ff"/><rect x="719" y="477" width="3" height="2" fill="#0000ff"/>
<rect x="724" y="465" width="1" height="10" fill="#0000ff"/><rect x="723" y="466" width="3" height="9" fill="#0000ff"/>
<rect x="728" y="451" width="1" height="20" fill="#0000ff"/><rect x="727" y="452" width="3" height="17" fill="#0000ff"/>
<rect x="732" y="452" width="1" height="13" fill="#ff0000"/><rect x="731" y="454" width="3" height="3" fill="#ff0000"/>
<rect x="735" y="454" width="1" height="13" fill="#0000ff"/><rect x="734" y="455" width="3" height="5" fill="#0000ff"/>
<rect x="739" y="452" width="1" height="5" fill="#0000ff"/><rect x="738" y="453" width="3" height="2" fill="#0000ff"/>
<rect x="743" y="459" width="1" height="18" fill="#ff0000"/><rect x="742" y="459" width="3" height="11" fill="#ff0000"/>
<rect x="747" y="457" width="1" height="16" fill="#0000ff"/><rect x="746" y="458" width="3" height="11" fill="#0000ff"/>
<rect x="751" y="449" width="1" height="9" fill="#ff0000"/><rect x="750" y="456" width="3" height="2" fill="#ff0000"/>
<rect x="755" y="452" width="1" height="13" fill="#0000ff"/><rect x="754" y="455" width="3" height="2" fill="#0000ff"/>
<rect x="759" y="431" width="1" height="16" fill="#0000ff"/><rect x="758" y="432" width="3" height="13" fill="#0000ff"/>
<rect x="763" y="430" width="1" height="10" fill="#0000ff"/><rect x="762" y="432" width="3" height="3" fill="#0000ff"/>
<rect x="767" y="435" width="1" height="9" fill="#0000ff"/><rect x="766" y="436" width="3" height="6" fill="#0000ff"/>
<rect x="770" y="435" width="1" height="7" fill="#0000ff"/><rect x="769" y="436" width="3" height="2" fill="#0000ff"/>
<rect x="774" y="433" width="1" height="14" fill="#0000ff"/><rect x="773" y="434" width="3" height="5" fill="#0000ff"/>
<rect x="778" y="430" width="1" height="5" fill="#0000ff"/><rect x="777" y="432" width="3" height="2" fill="#0000ff"/>
<rect x="782" y="427" width="1" height="13" fill="#ff0000"/><rect x="781" y="433" width="3" height="4" fill="#ff0000"/>
<rect x="786" y="435" width="1" height="11" fill="#ff0000"/><rect x="785" y="437" width="3" height="9" fill="#ff0000"/>
<rect x="790" y="441" width="1" height="16" fill="#ff0000"/><rect x="789" y="446" width="3" height="7" fill="#ff0000"/>
<rect x="794" y="433" width="1" height="21" fill="#0000ff"/><rect x="793" y="441" width="3" height="12" fill="#0000ff"/>
<rect x="798" y="421" width="1" height="22" fill="#0000ff"/><rect x="797" y="421" width="3" height="21" fill="#0000ff"/>
<rect x="802" y="409" width="1" height="11" fill="#0000ff"/><rect x="801" y="416" width="3" height="3" fill="#0000ff"/>
<rect x="806" y="408" width="1" height="21" fill="#ff0000"/><rect x="805" y="413" width="3" height="9" fill="#ff0000"/>
<rect x="809" y="420" width="1" height="8" fill="#0000ff"/><rect x="808" y="422" width="3" height="2" fill="#0000ff"/>
<rect x="813" y="414" width="1" height="11" fill="#ff0000"/><rect x="812" y="420" width="3" height="2" fill="#ff0000"/>
<rect x="817" y="405" width="1" height="14" fill="#0000ff"/><rect x="816" y="409" width="3" height="10" fill="#0000ff"/>
<rect x="821" y="402" width="1" height="12" fill="#ff0000"/><rect x="820" y="407" width="3" height="3" fill="#ff0000"/>
<rect x="825" y="403" width="1" height="11" fill="#0000ff"/><rect x="824" y="410" width="3" height="2" fill="#0000ff"/>
<rect x="829" y="411" width="1" height="18" fill="#ff0000"/><rect x="828" y="412" width="3" height="15" fill="#ff0000"/>
<rect x="833" y="418" width="1" height="11" fill="#ff0000"/><rect x="832" y="426" width="3" height="3" fill="#ff0000"/>
<rect x="837" y="422" width="1" height="12" fill="#0000ff"/><rect x="836" y="423" width="3" height="5" fill="#0000ff"/>
<rect x="841" y="422" width="1" height="5" fill="#0000ff"/><rect x="840" y="423" width="3" height="2" fill="#0000ff"/>
<rect x="845" y="402" width="1" height="20" fill="#0000ff"/><rect x="844" y="404" width="3" height="18" fill="#0000ff"/>
<rect x="848" y="395" width="1" height="11" fill="#ff0000"/><rect x="847" y="400" width="3" height="3" fill="#ff0000"/>
<rect x="852" y="402" width="1" height="16" fill="#ff0000"/><rect x="851" y="403" width="3" height="9" fill="#ff0000"/>
<rect x="856" y="408" width="1" height="21" fill="#ff0000"/><rect x="855" y="410" width="3" height="18" fill="#ff0000"/>
<rect x="860" y="408" width="1" height="24" fill="#0000ff"/><rect x="859" y="425" width="3" height="2" fill="#0000ff"/>
<rect x="864" y="420" width="1" height="13" fill="#0000ff"/><rect x="863" y="423" width="3" height="4" fill="#0000ff"/>
<rect x="868" y="416" width="1" height="8" fill="#0000ff"/><rect x="867" y="419" width="3" height="4" fill="#0000ff"/>
<rect x="872" y="416" width="1" height="8" fill="#ff0000"/><rect x="871" y="417" width="3" height="2" fill="#ff0000"/>
<rect x="876" y="411" width="1" height="12" fill="#0000ff"/><rect x="875" y="413" width="3" height="5" fill="#0000ff"/>
<rect x="880" y="392" width="1" height="22" fill="#0000ff"/><rect x="879" y="394" width="3" height="19" fill="#0000ff"/>
<rect x="883" y="396" width="1" height="10" fill="#ff0000"/><rect x="882" y="396" width="3" height="10" fill="#ff0000"/>
<rect x="887" y="398" width="1" height="10" fill="#0000ff"/><rect x="886" y="402" width="3" height="6" fill="#0000ff"/>
<rect x="891" y="382" width="1" height="20" fill="#0000ff"/><rect x="890" y="384" width="3" height="18" fill="#0000ff"/>
<rect x="895" y="375" width="1" height="13" fill="#0000ff"/><rect x="894" y="380" width="3" height="5" fill="#0000ff"/>
<rect x="899" y="377" width="1" height="21" fill="#ff0000"/><rect x="898" y="378" width="3" height="16" fill="#ff0000"/>
<rect x="903" y="388" width="1" height="10" fill="#0000ff"/><rect x="902" y="390" width="3" height="6" fill="#0000ff"/>
<rect x="907" y="387" width="1" height="23" fill="#ff0000"/><rect x="906" y="388" width="3" height="20" fill="#ff0000"/>
<rect x="911" y="405" width="1" height="32" fill="#ff0000"/><rect x="910" y="405" width="3" height="28" fill="#ff0000"/>
<rect x="915" y="418" width="1" height="13" fill="#ff0000"/><rect x="914" y="420" width="3" height="7" fill="#ff0000"/>
<rect x="919" y="427" width="1" height="23" fill="#ff0000"/><rect x="918" y="427" width="3" height="16" fill="#ff0000"/>
<rect x="922" y="431" width="1" height="25" fill="#0000ff"/><rect x="921" y="435" width="3" height="14" fill="#0000ff"/>
<rect x="926" y="428" width="1" height="13" fill="#ff0000"/><rect x="925" y="433" width="3" height="7" fill="#ff0000"/>
<rect x="930" y="439" width="1" height="14" fill="#ff0000"/><rect x="929" y="439" width="3" height="6" fill="#ff0000"/>
<rect x="934" y="439" width="1" height="7" fill="#ff0000"/><rect x="933" y="441" width="3" height="3" fill="#ff0000"/>
<rect x="938" y="435" width="1" height="18" fill="#ff0000"/><rect x="937" y="438" width="3" height="13" fill="#ff0000"/>
<rect x="942" y="450" width="1" height="18" fill="#ff0000"/><rect x="941" y="451" width="3" height="13" fill="#ff0000"/>
<rect x="946" y="439" width="1" height="26" fill="#0000ff"/><rect x="945" y="440" width="3" height="25" fill="#0000ff"/>
<rect x="950" y="437" width="1" height="12" fill="#ff0000"/><rect x="949" y="442" width="3" height="5" fill="#ff0000"/>
<rect x="954" y="433" width="1" height="19" fill="#0000ff"/><rect x="953" y="434" width="3" height="13" fill="#0000ff"/>
<rect x="957" y="431" width="1" height="11" fill="#0000ff"/><rect x="956" y="433" width="3" height="2" fill="#0000ff"/>
<rect x="961" y="421" width="1" height="8" fill="#0000ff"/><rect x="960" y="424" width="3" height="5" fill="#0000ff"/>
<rect x="965" y="422" width="1" height="19" fill="#ff0000"/><rect x="964" y="423" width="3" height="18" fill="#ff0000"/>
<rect x="969" y="428" width="1" height="14" fill="#0000ff"/><rect x="968" y="429" width="3" height="11" fill="#0000ff"/>
<rect x="973" y="421" width="1" height="13" fill="#0000ff"/><rect x="972" y="423" width="3" height="4" fill="#0000ff"/>
<rect x="977" y="412" width="1" height="16" fill="#0000ff"/><rect x="976" y="416" width="3" height="9" fill="#0000ff"/>
<rect x="981" y="414" width="1" height="8" fill="#ff0000"/><rect x="980" y="416" width="3" height="4" fill="#ff0000"/>
<rect x="985" y="411" width="1" height="8" fill="#ff0000"/><rect x="984" y="417" width="3" height="2" fill="#ff0000"/>
<rect x="989" y="406" width="1" height="15" fill="#0000ff"/><rect x="988" y="409" width="3" height="9" fill="#0000ff"/>
<rect x="993" y="389" width="1" height="18" fill="#0000ff"/><rect x="992" y="393" width="3" height="14" fill="#0000ff"/>
<rect x="996" y="383" width="1" height="17" fill="#0000ff"/><rect x="995" y="384" width="3" height="12" fill="#0000ff"/>
<rect x="1000" y="374" width="1" height="16" fill="#0000ff"/><rect x="999" y="380" width="3" height="8" fill="#0000ff"/>
<rect x="1004" y="336" width="1" height="50" fill="#0000ff"/><rect x="1003" y="344" width="3" height="36" fill="#0000ff"/>
<rect x="1008" y="334" width="1" height="29" fill="#ff0000"/><rect x="1007" y="336" width="3" height="18" fill="#ff0000"/>
<rect x="1012" y="338" width="1" height="25" fill="#0000ff"/><rect x="1011" y="344" width="3" height="8" fill="#0000ff"/>
<rect x="1016" y="332" width="1" height="20" fill="#ff0000"/><rect x="1015" y="341" width="3" height="6" fill="#ff0000"/>
<rect x="1020" y="341" width="1" height="20" fill="#0000ff"/><rect x="1019" y="343" width="3" height="2" fill="#0000ff"/>
<rect x="1024" y="345" width="1" height="19" fill="#ff0000"/><rect x="1023" y="349" width="3" height="14" fill="#ff0000"/>
<rect x="1028" y="329" width="1" height="35" fill="#0000ff"/><rect x="1027" y="330" width="3" height="34" fill="#0000ff"/>
<rect x="1032" y="318" width="1" height="14" fill="#ff0000"/><rect x="1031" y="329" width="3" height="3" fill="#ff0000"/>
<polyline points="23.0,432.5 24.0,432.2 25.0,431.9 26.0,431.5 27.0,431.0 28.0,430.5 29.0,429.9 30.0,429.3 31.0,428.6 32.0,427.8 33.0,427.0 34.0,426.1 35.0,425.0 36.0,423.9 37.0,422.7 38.0,421.5 39.0,420.2 40.0,418.8 41.0,417.4 42.0,416.0 43.0,414.5 44.0,413.0 45.0,411.4 46.0,409.8 47.0,408.3 48.0,406.8 49.0,405.5 50.0,404.3 51.0,403.3 52.0,402.3 53.0,401.3 54.0,400.4 55.0,399.4 56.0,398.5 57.0,397.5 58.0,396.5 59.0,395.6 60.0,394.6 61.0,393.7 62.0,392.8 63.0,392.0 64.0,391.3 65.0,390.7 66.0,390.0 67.0,389.0 68.0,387.8 69.0,386.6 70.0,385.5 71.0,384.6 72.0,383.8 73.0,383.0 74.0,382.0 75.0,380.6 76.0,379.0 77.0,377.2 78.0,375.5 79.0,373.9 80.0,372.4 81.0,370.8 82.0,369.2 83.0,367.5 84.0,365.6 85.0,363.5 86.0,361.4 87.0,359.2 88.0,357.0 89.0,354.8 90.0,352.6 91.0,350.3 92.0,348.1 93.0,346.0 94.0,344.0 95.0,342.2 96.0,340.3 97.0,338.0 98.0,335.2 99.0,331.9 100.0,328.5 101.0,324.8 102.0,322.7 103.0,321.4 104.0,320.4 105.0,319.5 106.0,318.7 107.0,318.0 108.0,317.3 109.0,316.5 110.0,315.5 111.0,314.3 112.0,313.1 113.0,311.9 114.0,311.0 115.0,310.3 116.0,309.7 117.0,309.1 118.0,308.5 119.0,307.9 120.0,307.3 121.0,306.7 122.0,306.1 123.0,305.5 124.0,304.8 125.0,304.2 126.0,303.4 127.0,302.7 128.0,302.0 129.0,301.3 130.0,300.6 131.0,299.8 132.0,299.0 133.0,298.0 134.0,296.7 135.0,295.5 136.0,294.5 137.0,293.7 138.0,293.0 139.0,292.4 140.0,291.8 141.0,291.2 142.0,290.5 143.0,289.6 144.0,288.7 145.0,287.6 146.0,286.6 147.0,285.7 148.0,285.0 149.0,284.5 150.0,284.0 151.0,283.5 152.0,282.7 153.0,281.8 154.0,280.7 155.0,279.6 156.0,278.5 157.0,277.5 158.0,276.6 159.0,275.7 160.0,274.8 161.0,274.0 162.0,273.2 163.0,272.5 164.0,271.8 165.0,271.2 166.0,270.5 167.0,269.8 168.0,269.2 169.0,268.5 170.0,268.0 171.0,267.6 172.0,267.1 173.0,266.8 174.0,266.5 175.0,266.3 176.0,266.1 177.0,265.9 178.0,265.7 179.0,265.5 180.0,265.2 181.0,264.9 182.0,264.5 183.0,264.1 184.0,263.6 185.0,263.0 186.0,262.2 187.0,261.3 188.0,260.1 189.0,259.0 190.0,257.8 191.0,256.5 192.0,255.3 193.0,254.0 194.0,252.9 195.0,251.8 196.0,250.5 197.0,248.8 198.0,246.8 199.0,244.6 200.0,242.4 201.0,240.4 202.0,238.7 203.0,237.2 204.0,235.7 205.0,234.4 206.0,233.1 207.0,231.8 208.0,230.6 209.0,229.4 210.0,228.3 211.0,227.3 212.0,226.3 213.0,225.4 214.0,224.4 215.0,223.3 216.0,222.0 217.0,220.5 218.0,219.0 219.0,217.3 220.0,215.7 221.0,214.0 222.0,212.5 223.0,211.2 224.0,210.0 225.0,208.8 226.0,207.7 227.0,206.7 228.0,205.7 229.0,204.8 230.0,203.9 231.0,203.1 232.0,202.4 233.0,201.8 234.0,201.2 235.0,200.6 236.0,200.0 237.0,199.5 238.0,198.9 239.0,198.2 240.0,197.5 241.0,196.7 242.0,195.8 243.0,194.7 244.0,193.7 245.0,192.6 246.0,191.6 247.0,190.6 248.0,189.7 249.0,188.9 250.0,188.3 251.0,187.8 252.0,187.4 253.0,186.9 254.0,186.6 255.0,186.2 256.0,185.9 257.0,185.6 258.0,185.3 259.0,185.0 260.0,184.7 261.0,184.4 262.0,184.1 263.0,183.8 264.0,183.5 265.0,183.3 266.0,183.0 267.0,182.8 268.0,182.6 269.0,182.4 270.0,182.2 271.0,182.0 272.0,181.9 273.0,181.8 274.0,181.6 275.0,181.5 276.0,181.3 277.0,181.1 278.0,180.9 279.0,180.6 280.0,180.2 281.0,179.7 282.0,179.2 283.0,178.5 284.0,177.7 285.0,176.4 286.0,174.9 287.0,173.3 288.0,172.0 289.0,171.0 290.0,170.1 291.0,169.3 292.0,168.5 293.0,167.7 294.0,167.0 295.0,166.3 296.0,165.5 297.0,164.8 298.0,163.9 299.0,163.1 300.0,162.2 301.0,161.3 302.0,160.4 303.0,159.6 304.0,158.9 305.0,158.3 306.0,157.8 307.0,157.4 308.0,157.1 309.0,156.8 310.0,156.6 311.0,156.3 312.0,156.1 313.0,155.9 314.0,155.8 315.0,155.6 316.0,155.5 317.0,155.4 318.0,155.3 319.0,155.3 320.0,155.2 321.0,155.2 322.0,155.2 323.0,155.2 324.0,155.2 325.0,155.2 326.0,155.1 327.0,155.1 328.0,155.1 329.0,155.0 330.0,155.0 331.0,154.8 332.0,154.3 333.0,153.7 334.0,152.9 335.0,152.1 336.0,151.3 337.0,150.6 338.0,149.9 339.0,149.1 340.0,148.3 341.0,147.5 342.0,146.7 343.0,146.0 344.0,145.4 345.0,145.0 346.0,144.6 347.0,144.3 348.0,143.9 349.0,143.7 350.0,143.5 351.0,143.3 352.0,143.3 353.0,143.4 354.0,143.5 355.0,143.7 356.0,144.1 357.0,144.7 358.0,145.3 359.0,146.1 360.0,147.0 361.0,147.8 362.0,148.7 363.0,149.3 364.0,149.8 365.0,150.3 366.0,150.7 367.0,151.0 368.0,151.3 369.0,151.7 370.0,152.0 371.0,152.4 372.0,152.8 373.0,153.2 374.0,153.6 375.0,154.0 376.0,154.2 377.0,154.2 378.0,154.2 379.0,154.2 380.0,154.2 381.0,154.2 382.0,154.2 383.0,154.1 384.0,153.9 385.0,153.7 386.0,153.4 387.0,153.1 388.0,152.8 389.0,152.6 390.0,152.4 391.0,152.2 392.0,152.2 393.0,152.2 394.0,152.2 395.0,152.3 396.0,152.3 397.0,152.4 398.0,152.4 399.0,152.5 400.0,152.6 401.0,152.7 402.0,153.0 403.0,153.6 404.0,154.3 405.0,155.2 406.0,156.1 407.0,157.0 408.0,158.0 409.0,159.0 410.0,160.2 411.0,161.4 412.0,162.6 413.0,163.8 414.0,165.0 415.0,166.1 416.0,167.2 417.0,168.3 418.0,169.4 419.0,170.5 420.0,171.6 421.0,172.6 422.0,173.6 423.0,174.6 424.0,175.5 425.0,176.4 426.0,177.3 427.0,178.1 428.0,179.0 429.0,179.9 430.0,180.9 431.0,181.8 432.0,182.8 433.0,183.8 434.0,184.9 435.0,185.9 436.0,187.0 437.0,188.1 438.0,189.3 439.0,190.5 440.0,191.7 441.0,193.0 442.0,194.3 443.0,195.7 444.0,197.1 445.0,198.6 446.0,200.0 447.0,201.5 448.0,203.0 449.0,204.4 450.0,205.8 451.0,207.0 452.0,208.3 453.0,209.4 454.0,210.6 455.0,211.6 456.0,212.7 457.0,213.7 458.0,214.8 459.0,215.7 460.0,216.7 461.0,217.6 462.0,218.5 463.0,219.3 464.0,220.1 465.0,220.9 466.0,221.7 467.0,222.5 468.0,223.3 469.0,224.1 470.0,225.0 471.0,226.0 472.0,227.0 473.0,228.1 474.0,229.2 475.0,230.3 476.0,231.5 477.0,232.7 478.0,233.9 479.0,235.1 480.0,236.3 481.0,237.5 482.0,238.6 483.0,239.8 484.0,241.0 485.0,242.2 486.0,243.4 487.0,244.5 488.0,245.5 489.0,246.4 490.0,247.2 491.0,247.9 492.0,248.6 493.0,249.3 494.0,250.0 495.0,250.8 496.0,251.7 497.0,252.8 498.0,253.9 499.0,255.0 500.0,256.1 501.0,257.2 502.0,258.1 503.0,259.0 504.0,259.7 505.0,260.4 506.0,261.0 507.0,261.5 508.0,261.9 509.0,262.2 510.0,262.4 511.0,262.6 512.0,262.8 513.0,263.0 514.0,263.2 515.0,263.6 516.0,264.2 517.0,264.9 518.0,265.5 519.0,266.0 520.0,266.5 521.0,267.0 522.0,267.6 523.0,268.1 524.0,268.7 525.0,269.4 526.0,270.0 527.0,270.7 528.0,271.5 529.0,272.2 530.0,273.0 531.0,273.8 532.0,274.7 533.0,275.5 534.0,276.4 535.0,277.4 536.0,278.3 537.0,279.3 538.0,280.4 539.0,281.4 540.0,282.6 541.0,283.8 542.0,285.0 543.0,286.3 544.0,287.7 545.0,289.4 546.0,291.2 547.0,292.9 548.0,294.6 549.0,296.0 550.0,297.3 551.0,298.5 552.0,299.7 553.0,300.9 554.0,302.0 555.0,303.1 556.0,304.2 557.0,305.3 558.0,306.4 559.0,307.4 560.0,308.5 561.0,309.5 562.0,310.4 563.0,311.4 564.0,312.3 565.0,313.2 566.0,314.1 567.0,315.0 568.0,316.0 569.0,317.0 570.0,318.0 571.0,319.0 572.0,320.2 573.0,321.3 574.0,322.6 575.0,324.0 576.0,325.4 577.0,327.0 578.0,328.6 579.0,330.1 580.0,331.7 581.0,333.2 582.0,334.8 583.0,336.4 584.0,337.9 585.0,339.5 586.0,341.2 587.0,342.8 588.0,344.5 589.0,346.2 590.0,348.0 591.0,349.9 592.0,351.7 593.0,353.6 594.0,355.6 595.0,357.4 596.0,359.3 597.0,361.1 598.0,362.8 599.0,364.4 600.0,366.0 601.0,367.5 602.0,369.0 603.0,370.5 604.0,371.9 605.0,373.3 606.0,374.8 607.0,376.3 608.0,377.8 609.0,379.4 610.0,381.0 611.0,382.5 612.0,384.1 613.0,385.7 614.0,387.3 615.0,389.0 616.0,390.7 617.0,392.5 618.0,394.4 619.0,396.5 620.0,399.0 621.0,401.6 622.0,404.1 623.0,406.2 624.0,407.8 625.0,409.3 626.0,410.6 627.0,411.8 628.0,412.9 629.0,414.0 630.0,415.0 631.0,415.9 632.0,416.7 633.0,417.5 634.0,418.3 635.0,419.2 636.0,420.2 637.0,421.4 638.0,422.6 639.0,423.9 640.0,425.2 641.0,426.6 642.0,427.9 643.0,429.2 644.0,430.5 645.0,431.7 646.0,432.8 647.0,434.0 648.0,435.1 649.0,436.1 650.0,437.2 651.0,438.3 652.0,439.4 653.0,440.5 654.0,441.6 655.0,442.7 656.0,443.9 657.0,445.0 658.0,446.1 659.0,447.2 660.0,448.3 661.0,449.3 662.0,450.3 663.0,451.3 664.0,452.3 665.0,453.3 666.0,454.3 667.0,455.3 668.0,456.4 669.0,457.4 670.0,458.4 671.0,459.5 672.0,460.5 673.0,461.4 674.0,462.4 675.0,463.3 676.0,464.2 677.0,465.1 678.0,466.0 679.0,466.8 680.0,467.6 681.0,468.3 682.0,468.9 683.0,469.3 684.0,469.8 685.0,470.2 686.0,470.5 687.0,470.9 688.0,471.2 689.0,471.5 690.0,471.8 691.0,472.1 692.0,472.4 693.0,472.6 694.0,472.9 695.0,473.1 696.0,473.3 697.0,473.5 698.0,473.7 699.0,473.9 700.0,474.1 701.0,474.3 702.0,474.5 703.0,474.7 704.0,474.9 705.0,475.1 706.0,475.2 707.0,475.3 708.0,475.3 709.0,475.3 710.0,475.3 711.0,475.3 712.0,475.3 713.0,475.3 714.0,475.3 715.0,475.2 716.0,475.2 717.0,475.2 718.0,475.2 719.0,475.1 720.0,475.1 721.0,475.1 722.0,475.0 723.0,475.0 724.0,475.0 725.0,474.9 726.0,474.7 727.0,474.5 728.0,474.4 729.0,474.2 730.0,474.0 731.0,473.8 732.0,473.7 733.0,473.5 734.0,473.4 735.0,473.3 736.0,473.1 737.0,472.9 738.0,472.6 739.0,472.3 740.0,472.0 741.0,471.8 742.0,471.5 743.0,471.3 744.0,471.2 745.0,471.1 746.0,471.0 747.0,470.9 748.0,470.8 749.0,470.7 750.0,470.7 751.0,470.6 752.0,470.5 753.0,470.4 754.0,470.3 755.0,470.2 756.0,470.1 757.0,470.0 758.0,469.7 759.0,469.5 760.0,469.2 761.0,468.8 762.0,468.4 763.0,468.0 764.0,467.6 765.0,467.1 766.0,466.7 767.0,466.3 768.0,465.9 769.0,465.5 770.0,465.1 771.0,464.7 772.0,464.3 773.0,463.9 774.0,463.4 775.0,463.0 776.0,462.6 777.0,462.2 778.0,461.7 779.0,461.3 780.0,461.0 781.0,460.6 782.0,460.3 783.0,460.0 784.0,459.7 785.0,459.5 786.0,459.3 787.0,459.1 788.0,459.0 789.0,458.9 790.0,458.8 791.0,458.7 792.0,458.5 793.0,458.4 794.0,458.3 795.0,458.1 796.0,457.9 797.0,457.7 798.0,457.5 799.0,457.1 800.0,456.7 801.0,456.3 802.0,455.8 803.0,455.3 804.0,454.8 805.0,454.3 806.0,453.8 807.0,453.2 808.0,452.7 809.0,452.2 810.0,451.7 811.0,451.2 812.0,450.7 813.0,450.2 814.0,449.6 815.0,449.0 816.0,448.5 817.0,447.9 818.0,447.3 819.0,446.8 820.0,446.3 821.0,445.8 822.0,445.3 823.0,444.9 824.0,444.5 825.0,444.1 826.0,443.9 827.0,443.6 828.0,443.5 829.0,443.3 830.0,443.2 831.0,443.0 832.0,442.9 833.0,442.8 834.0,442.7 835.0,442.6 836.0,442.5 837.0,442.4 838.0,442.3 839.0,442.2 840.0,442.0 841.0,441.8 842.0,441.6 843.0,441.3 844.0,441.0 845.0,440.5 846.0,440.0 847.0,439.5 848.0,438.9 849.0,438.4 850.0,437.8 851.0,437.3 852.0,436.8 853.0,436.4 854.0,436.0 855.0,435.8 856.0,435.6 857.0,435.5 858.0,435.3 859.0,435.2 860.0,435.1 861.0,435.0 862.0,434.9 863.0,434.8 864.0,434.7 865.0,434.6 866.0,434.5 867.0,434.4 868.0,434.2 869.0,434.1 870.0,433.9 871.0,433.7 872.0,433.5 873.0,433.2 874.0,433.0 875.0,432.7 876.0,432.4 877.0,432.1 878.0,431.8 879.0,431.5 880.0,431.1 881.0,430.7 882.0,430.3 883.0,429.9 884.0,429.5 885.0,429.0 886.0,428.5 887.0,428.1 888.0,427.6 889.0,427.2 890.0,426.7 891.0,426.2 892.0,425.7 893.0,425.2 894.0,424.7 895.0,424.1 896.0,423.6 897.0,423.1 898.0,422.7 899.0,422.3 900.0,422.0 901.0,421.7 902.0,421.4 903.0,421.1 904.0,420.9 905.0,420.7 906.0,420.5 907.0,420.4 908.0,420.3 909.0,420.3 910.0,420.3 911.0,420.4 912.0,420.4 913.0,420.4 914.0,420.5 915.0,420.6 916.0,420.6 917.0,420.7 918.0,420.9 919.0,421.1 920.0,421.3 921.0,421.6 922.0,421.9 923.0,422.3 924.0,422.6 925.0,423.0 926.0,423.3 927.0,423.6 928.0,423.9 929.0,424.2 930.0,424.4 931.0,424.7 932.0,424.9 933.0,425.2 934.0,425.4 935.0,425.7 936.0,425.9 937.0,426.1 938.0,426.4 939.0,426.6 940.0,426.9 941.0,427.1 942.0,427.4 943.0,427.7 944.0,428.0 945.0,428.3 946.0,428.6 947.0,428.9 948.0,429.2 949.0,429.5 950.0,429.8 951.0,430.0 952.0,430.2 953.0,430.3 954.0,430.3 955.0,430.4 956.0,430.5 957.0,430.5 958.0,430.6 959.0,430.6 960.0,430.6 961.0,430.7 962.0,430.7 963.0,430.7 964.0,430.7 965.0,430.7 966.0,430.7 967.0,430.6 968.0,430.6 969.0,430.5 970.0,430.5 971.0,430.4 972.0,430.4 973.0,430.3 974.0,430.3 975.0,430.2 976.0,430.1 977.0,429.9 978.0,429.8 979.0,429.6 980.0,429.5 981.0,429.3 982.0,429.2 983.0,429.0 984.0,428.9 985.0,428.8 986.0,428.7 987.0,428.5 988.0,428.4 989.0,428.3 990.0,428.1 991.0,427.9 992.0,427.7 993.0,427.4 994.0,427.1 995.0,426.7 996.0,426.2 997.0,425.7 998.0,425.1 999.0,424.5 1000.0,423.8 1001.0,423.1 1002.0,422.4 1003.0,421.7 1004.0,421.0 1005.0,420.3 1006.0,419.6 1007.0,418.7 1008.0,417.8 1009.0,416.9 1010.0,415.9 1011.0,415.0 1012.0,414.0 1013.0,413.0 1014.0,412.1 1015.0,411.2 1016.0,410.3 1017.0,409.5 1018.0,408.7 1019.0,407.9 1020.0,407.1 1021.0,406.3 1022.0,405.5 1023.0,404.7 1024.0,404.0 1025.0,403.3 1026.0,402.5 1027.0,401.8 1028.0,401.1 1029.0,400.5 1030.0,399.8 1031.0,399.1 1032.0,398.5" fill="none" stroke="#a52020" stroke-width="1"/>
</g>
<text x="19.7" y="16" class="t" font-size="16.55" fill="#000">Lundin Mining Corp (LUN) 7.13</text>
<text x="252.3" y="16" class="t" font-size="16.7" fill="#d40000">-0.14</text>
<text x="777.6" y="16" class="t" font-size="16.7" fill="#000" textLength="158" lengthAdjust="spacingAndGlyphs">www.fullermoney.com</text>
<text x="955.6" y="16" class="t" font-size="16.7" fill="#000" textLength="85" lengthAdjust="spacingAndGlyphs">9 Dec 2010</text>
<text x="23.9" y="42" font-size="14" fill="#0000ff" textLength="46.7" lengthAdjust="spacingAndGlyphs">Weekly</text>
<text x="23.6" y="59" font-size="14" fill="#a52020" textLength="57.5" lengthAdjust="spacingAndGlyphs">EMA 200</text>
<text x="1044.3" y="50" font-size="14" fill="#000">16</text>
<text x="1044.3" y="115" font-size="14" fill="#000">14</text>
<text x="1044.3" y="180" font-size="14" fill="#000">12</text>
<text x="1044.3" y="244" font-size="14" fill="#000">10</text>
<text x="1044.3" y="309" font-size="14" fill="#000">8</text>
<text x="1044.3" y="374" font-size="14" fill="#000">6</text>
<text x="1044.3" y="439" font-size="14" fill="#000">4</text>
<text x="1044.3" y="504" font-size="14" fill="#000">2</text>
<text x="1044.3" y="568" font-size="14" fill="#000">0</text>
<text x="29.8" y="578" font-size="14" fill="#000" text-anchor="middle">2006</text>
<text x="78.2" y="578" font-size="14" fill="#000" text-anchor="middle">Apr</text>
<text x="127.5" y="578" font-size="14" fill="#000" text-anchor="middle">Jul</text>
<text x="180.5" y="578" font-size="14" fill="#000" text-anchor="middle">Oct</text>
<text x="231.8" y="578" font-size="14" fill="#000" text-anchor="middle">2007</text>
<text x="281.2" y="578" font-size="14" fill="#000" text-anchor="middle">Apr</text>
<text x="331.5" y="578" font-size="14" fill="#000" text-anchor="middle">Jul</text>
<text x="382.5" y="578" font-size="14" fill="#000" text-anchor="middle">Oct</text>
<text x="434.8" y="578" font-size="14" fill="#000" text-anchor="middle">2008</text>
<text x="484.2" y="578" font-size="14" fill="#000" text-anchor="middle">Apr</text>
<text x="533.5" y="578" font-size="14" fill="#000" text-anchor="middle">Jul</text>
<text x="586.5" y="578" font-size="14" fill="#000" text-anchor="middle">Oct</text>
<text x="638.8" y="578" font-size="14" fill="#000" text-anchor="middle">2009</text>
<text x="687.2" y="578" font-size="14" fill="#000" text-anchor="middle">Apr</text>
<text x="737.5" y="578" font-size="14" fill="#000" text-anchor="middle">Jul</text>
<text x="789.5" y="578" font-size="14" fill="#000" text-anchor="middle">Oct</text>
<text x="842.8" y="578" font-size="14" fill="#000" text-anchor="middle">2010</text>
<text x="890.2" y="578" font-size="14" fill="#000" text-anchor="middle">Apr</text>
<text x="940.5" y="578" font-size="14" fill="#000" text-anchor="middle">Jul</text>
<text x="993.5" y="578" font-size="14" fill="#000" text-anchor="middle">Oct</text>
<text x="1040.2" y="595" class="c" font-size="9.57" fill="#8c8c8c" text-anchor="end">© 2010 Stockcube Research Ltd</text>
</svg></body></html>
